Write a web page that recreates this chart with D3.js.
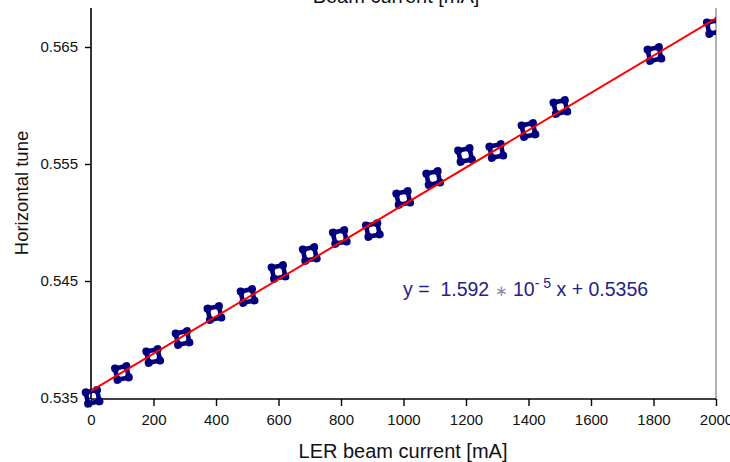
<!DOCTYPE html>
<html><head><meta charset="utf-8">
<script src="https://cdn.jsdelivr.net/npm/d3@7"></script>
<style>body{margin:0;background:#fff;} text{font-family:"Liberation Sans",Arial,sans-serif;}</style>
</head><body>
<svg id="c" width="730" height="462"></svg>
<script>
const currents = [5, 99, 199, 293, 395, 501, 600, 700, 796, 902, 999, 1095, 1197, 1297, 1400, 1502, 1803, 1993];
const tunes = [0.5351, 0.53714, 0.53859, 0.54013, 0.54226, 0.54372, 0.54577, 0.54731, 0.54876, 0.54936, 0.55209, 0.5538, 0.55577, 0.55611, 0.55791, 0.55987, 0.5644, 0.56671];
const fitSlope = 1.592e-5;
const fitIntercept = 0.5356;
const xTicks = [0, 200, 400, 600, 800, 1000, 1200, 1400, 1600, 1800, 2000];
const yTicks = [0.535, 0.545, 0.555, 0.565];

const svg = d3.select("#c");
const L = 91, R = 716, T = 8, B = 399;
const x = d3.scaleLinear().domain([0, 2000]).range([L, R]);
const y = d3.scaleLinear().domain([0.535, 0.565]).range([398, 47]);

// top (cropped) title
svg.append("text").attr("x", 396).attr("y", 3).attr("text-anchor", "middle")
  .attr("font-size", 20).attr("fill", "#111").text("Beam current [mA]");

// right border
svg.append("line").attr("x1", R).attr("x2", R).attr("y1", T).attr("y2", B)
  .attr("stroke", "#888").attr("stroke-width", 1.3);

// axes
const xAxis = svg.append("g").attr("transform", `translate(0,${B})`)
  .call(d3.axisBottom(x).tickValues(xTicks).tickSize(7).tickPadding(8).tickFormat(d3.format("d")));
xAxis.select(".domain").attr("stroke", "#000").attr("stroke-width", 1.6).attr("d", `M${L},0H${R}`);
xAxis.selectAll("line").attr("stroke-width", 1.4);
xAxis.selectAll("text").attr("font-size", 15).attr("fill", "#111")
  .attr("font-family", "Liberation Sans, Arial, sans-serif");

const yAxis = svg.append("g").attr("transform", `translate(${L},0)`)
  .call(d3.axisLeft(y).tickValues(yTicks).tickSize(6).tickPadding(7).tickFormat(d3.format(".3f")));
yAxis.select(".domain").attr("stroke", "#000").attr("stroke-width", 1.6).attr("d", `M0,${T}V${B}`);
yAxis.selectAll("line").attr("stroke-width", 1.4);
yAxis.selectAll("text").attr("font-size", 15).attr("fill", "#111")
  .attr("font-family", "Liberation Sans, Arial, sans-serif");

// labels
svg.append("text").attr("x", 403).attr("y", 458).attr("text-anchor", "middle")
  .attr("font-size", 20).attr("fill", "#111").text("LER beam current [mA]");
svg.append("text").attr("transform", "translate(28,193) rotate(-90)").attr("text-anchor", "middle")
  .attr("font-size", 18.5).attr("fill", "#111").text("Horizontal tune");

// clip
svg.append("clipPath").attr("id", "clip").append("rect")
  .attr("x", 0).attr("y", T).attr("width", R - 0).attr("height", 462);

const g = svg.append("g").attr("clip-path", "url(#clip)");

// markers
const navy = "#00007f";
const m = g.selectAll("g.m").data(currents.map((c, i) => [c, tunes[i]])).enter().append("g")
  .attr("transform", d => `translate(${x(d[0])},${y(d[1])}) rotate(-12)`);
m.append("rect").attr("x", -5.8).attr("y", -5.8).attr("width", 11.6).attr("height", 11.6).attr("rx", 2.5)
  .attr("fill", "none").attr("stroke", navy).attr("stroke-width", 4.6);
[[-5.8, -5.8], [5.8, -5.8], [-5.8, 5.8], [5.8, 5.8]].forEach(([dx, dy]) => {
  m.append("circle").attr("cx", dx).attr("cy", dy).attr("r", 4).attr("fill", navy);
});

// fit line
g.append("line").attr("x1", x(0)).attr("y1", y(fitIntercept))
  .attr("x2", x(2000)).attr("y2", y(fitIntercept + fitSlope * 2000))
  .attr("stroke", "#ff0000").attr("stroke-width", 2);

// equation
const eq = svg.append("text").attr("x", 403).attr("y", 296).attr("font-size", 19.5).attr("fill", "#22228a")
  .attr("xml:space", "preserve").style("white-space", "pre");
eq.append("tspan").text("y =  1.592 ");
eq.append("tspan").attr("fill", "#8888bb").attr("font-size", 15).text("\u2217");
eq.append("tspan").text(" 10");
eq.append("tspan").attr("dy", -8).attr("font-size", 14).text("- 5");
eq.append("tspan").attr("dy", 8).text(" x + 0.5356");
</script>
</body></html>
